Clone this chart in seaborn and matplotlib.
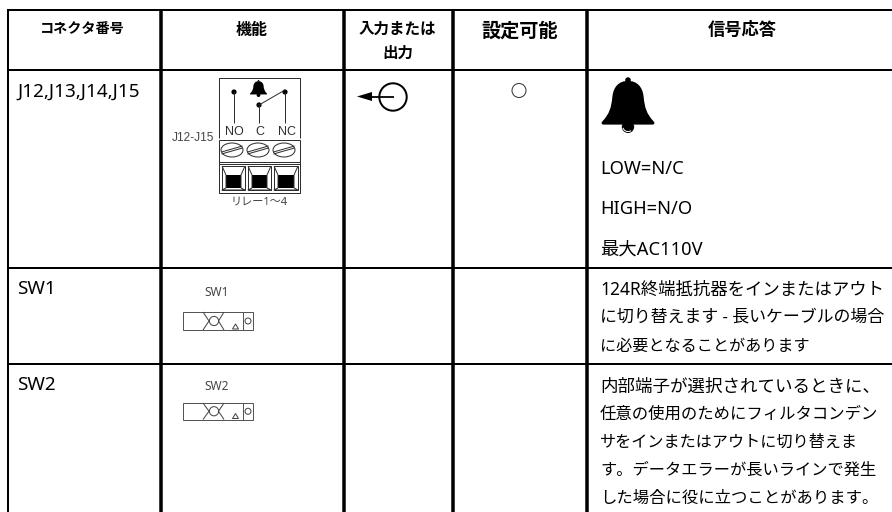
import matplotlib
matplotlib.use("Agg")
import matplotlib.pyplot as plt
import seaborn as sns
from matplotlib.patches import Arc, Circle, Ellipse, PathPatch, Polygon, Rectangle
from matplotlib.path import Path

# ---- table content ----
column_edges = [8, 161, 344, 452.5, 587]
row_edges = [10, 70, 268, 364]
column_widths = [2, 3.5, 3.5, 3.5, 3.5]
row_widths = [2, 2, 2, 2]

header_labels = ["コネクタ番号", "機能", "入力または", "出力", "設定可能", "信号応答"]
connector_labels = ["J12,J13,J14,J15", "SW1", "SW2"]
relay_text = ["LOW=N/C", "HIGH=N/O", "最大AC110V"]
sw1_text = ["124R終端抵抗器をインまたはアウト",
            "に切り替えます - 長いケーブルの場合",
            "に必要となることがあります"]
sw2_text = ["内部端子が選択されているときに、",
            "任意の使用のためにフィルタコンデン",
            "サをインまたはアウトに切り替えま",
            "す。データエラーが長いラインで発生",
            "した場合に役に立つことがあります。"]
terminal_labels = ["NO", "C", "NC"]
relay_caption = "リレー1〜4"
relay_tag = "J12-J15"

sns.set_theme(style="white")
FONT = ["Noto Sans", "Noto Sans CJK JP", "DejaVu Sans"]
CJK = ["Noto Sans CJK JP", "DejaVu Sans"]
plt.rcParams["font.family"] = FONT

PX = 0.72
fig = plt.figure(figsize=(8.92, 5.12), dpi=100, facecolor="white")
ax = fig.add_axes([0, 0, 1, 1])
INK = "#2e2e2e"


def rule(xs, ys, px, color="black"):
    sns.lineplot(x=xs, y=ys, estimator=None, sort=False, color=color,
                 linewidth=px * PX, solid_capstyle="butt", legend=False, ax=ax)


def label(x, y, s, size, weight="normal", color="black", ha="left", family=FONT):
    ax.text(x, y, s, fontsize=size, fontweight=weight, color=color, ha=ha,
            va="center", family=family)


def bell(cx, top, w, h, color="black"):
    """Bell glyph scaled into a box of w x h pixels."""
    right = [(.18, .07), (.28, .18), (.30, .35),
             (.32, .55), (.36, .66), (.49, .79),
             (.52, .82), (.51, .85), (.47, .85)]
    left = [(-x, y) for x, y in reversed(right)] + [(0, .07)]
    verts = [(0, .07)] + right + left
    codes = [Path.MOVETO] + [Path.CURVE4] * 9 + [Path.LINETO] + [Path.CURVE4] * 9
    pts = [(cx + vx * w, top + vy * h) for vx, vy in verts]
    ax.add_patch(PathPatch(Path(pts, codes), fc=color, ec="none"))
    ax.add_patch(Circle((cx, top + .055 * h), .05 * h, fc=color, ec="none"))
    ax.add_patch(Circle((cx, top + .89 * h), .11 * h, fc=color, ec="none"))


def slide_switch(top, bottom, name, name_y):
    left, right, divider = 183, 253, 243
    mid = (top + bottom) / 2
    ax.add_patch(Rectangle((left, top), right - left, bottom - top, fc="white", ec="#555555", lw=PX))
    rule([divider, divider], [top, bottom], 1, "#555555")
    ax.add_patch(Circle((248, mid), 3, fc="white", ec="#444444", lw=PX))
    ax.add_patch(Circle((214, mid), 4.6, fc="white", ec="#444444", lw=PX))
    rule([203, 209, 203], [top, mid, bottom], 1, "#444444")
    rule([224, 218.5, 224], [top, mid, bottom], 1, "#444444")
    ax.add_patch(Polygon([(232.5, bottom - 1), (238.5, bottom - 1), (235.5, bottom - 6)],
                         fc="white", ec="#444444", lw=PX))
    label(216.5, name_y, name, 8.6, color="#444444", ha="center")


# ---- table grid ----
bottom_edge, right_edge = 512, 892
for x, w in zip(column_edges, column_widths):
    rule([x, x], [row_edges[0] - 1, bottom_edge], w)
for y, w in zip(row_edges, row_widths):
    rule([column_edges[0] - 1, right_edge], [y, y], w)

# ---- headers ----
label(82, 30, header_labels[0], 10.2, "bold", ha="center", family=CJK)
label(252, 30, header_labels[1], 11.5, "bold", ha="center", family=CJK)
label(397.5, 29, header_labels[2], 11.2, "bold", ha="center", family=CJK)
label(397.5, 53, header_labels[3], 11.2, "bold", ha="center", family=CJK)
label(519.5, 31.5, header_labels[4], 13.8, "bold", ha="center", family=CJK)
label(742, 30, header_labels[5], 12.4, "bold", ha="center", family=CJK)

# ---- connector column ----
for y, s in zip([92, 289.5, 385.5], connector_labels):
    label(17, y, s, 13.6)

# ---- signal column ----
for y, s in zip([169.5, 209.5, 249.5], relay_text):
    label(600, y, s, 13.2)
for y, s, size in zip([289.5, 318, 346.5], sw1_text, [12.5, 12.2, 11.6]):
    label(600, y, s, size)
for y, s, size in zip([386.5, 414.5, 442.5, 470.5, 498.5], sw2_text, [12.6, 11.8, 11.6, 11.7, 11.8]):
    label(600, y, s, size)
bell(628, 77, 52, 56)
ax.add_patch(Arc((628, 127), 10, 9, theta1=50, theta2=170, color="white", lw=PX))

# ---- input/output symbol and settable mark ----
ax.add_patch(Circle((393, 97), 13.7, fc="none", ec="black", lw=2 * PX))
rule([368, 394], [96.5, 96.5], 1.8)
ax.add_patch(Polygon([(357, 96.5), (372, 92), (372, 101)], fc="black", ec="none"))
ax.add_patch(Circle((519, 90.5), 7, fc="none", ec="#333333", lw=PX))

# ---- relay diagram ----
rule([219, 219, 300, 300], [138, 78, 78, 138], 1, INK)
ax.add_patch(Rectangle((219, 140), 81, 53, fc="none", ec=INK, lw=PX))
rule([219, 300], [161.5, 161.5], 1, INK)
rule([219, 300], [163.5, 163.5], 1, INK)
for x, top in [(234, 92), (259, 105), (285, 92)]:
    rule([x, x], [top, 123], 1, INK)
    ax.add_patch(Circle((x, top), 2.6, fc="black", ec="none"))
rule([259, 285], [105, 90], 1, INK)
bell(258.5, 80, 17, 17)
for x, s in zip([234, 260, 287], terminal_labels):
    label(x, 132, s, 9, color=INK, ha="center", family=["Liberation Sans"])
label(172, 138, relay_tag, 8.6, color="#444444", family=["Liberation Sans"])
label(259, 202, relay_caption, 8, color="#444444", ha="center")
for cx in (232, 258, 284):
    ax.add_patch(Ellipse((cx, 150), 22, 14, fc="white", ec=INK, lw=PX))
    rule([cx - 10.5, cx + 10.5], [152, 146], 1, INK)
    rule([cx - 10.5, cx + 10.5], [154, 148], 1, INK)
for x0, x1 in [(222, 245), (248, 271), (274, 298)]:
    ax.add_patch(Rectangle((x0, 166), x1 - x0, 24, fc="white", ec=INK, lw=PX))
    ax.add_patch(Rectangle((x0 + 4, 175), x1 - x0 - 8, 13, fc="black", ec="none"))
    rule([x0, x0 + 4, x0 + 4], [166, 175, 188], 1, INK)
    rule([x1, x1 - 4, x1 - 4], [166, 175, 188], 1, INK)
    rule([x0 + 4, x0, x1, x1 - 4], [188, 190, 190, 188], 1, INK)

# ---- slide switches ----
slide_switch(312, 330, "SW1", 292.7)
slide_switch(403, 419.5, "SW2", 387)

ax.set_xlim(0, 892)
ax.set_ylim(512, 0)
ax.set_xlabel("")
ax.set_ylabel("")
sns.despine(ax=ax, left=True, bottom=True)
ax.set_xticks([])
ax.set_yticks([])
fig.savefig("out.png", dpi=100, facecolor="white")
